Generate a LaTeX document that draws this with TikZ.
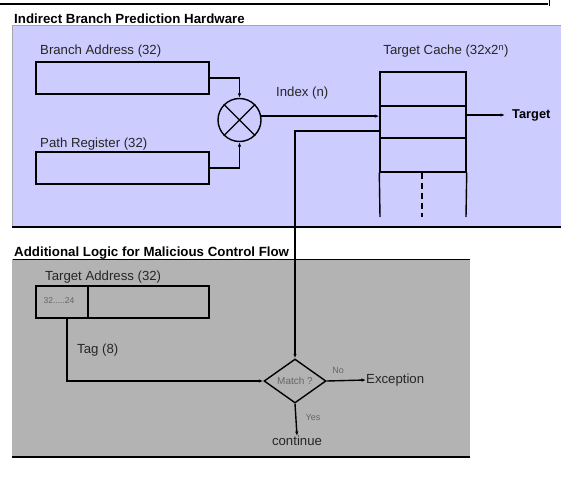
\documentclass[tikz,border=0pt]{standalone}
\usepackage{fontspec}
\setmainfont{Liberation Sans}
\usetikzlibrary{arrows.meta,shapes.geometric}
\definecolor{panelblue}{RGB}{204,204,255}
\definecolor{panelgray}{RGB}{179,179,179}
\begin{document}
\begin{tikzpicture}[x=1pt,y=-1pt,
  conn/.style={line width=1.4pt,-{Latex[length=4.5pt,width=3.5pt]}},
  plain/.style={line width=1.4pt},
  regbox/.style={draw,line width=1.4pt,minimum height=32pt,inner sep=0pt},
  lbl/.style={font=\fontsize{13.2}{15}\selectfont,text=black!85,inner sep=0pt},
  ttl/.style={font=\fontsize{13.3}{15}\selectfont\bfseries,inner sep=0pt,anchor=west},
  small/.style={font=\fontsize{9}{10}\selectfont,text=black!60,inner sep=0pt}]
\useasboundingbox (0,0) rectangle (561,476);
% top rule
\draw[line width=2.4pt] (0,4) -- (548,4);
\draw[line width=0.6pt] (549,0) -- (549,6);
% panels
\fill[panelblue] (12,25) rectangle (561,227);
\draw[gray!70,line width=0.6pt] (12,227) -- (12,25) -- (561,25);
\draw[line width=1.3pt] (12,227) -- (561,227);
\fill[panelgray] (12,259) rectangle (470,457);
\draw[line width=0.8pt] (12,259) -- (470,259);
\draw[gray!60,line width=0.6pt] (12,259) -- (12,457);
\draw[line width=2pt] (12,457) -- (470,457);
% titles
\node[ttl] (t1) at (14,19) {Indirect Branch Prediction Hardware};
\node[ttl] (t2) at (14,253) {Additional Logic for Malicious Control Flow};
% registers
\node[regbox,minimum width=173pt] (ba) at (122.5,78) {};
\node[lbl,anchor=west] (bal) at (40,51) {Branch Address (32)};
\node[regbox,minimum width=173pt] (pr) at (122.5,168) {};
\node[lbl,anchor=west] (prl) at (40,144) {Path Register (32)};
% xor circle
\node[draw,circle,line width=1.4pt,minimum size=43pt,inner sep=0pt] (circ) at (239.5,120) {};
\draw[plain] (circ.45) -- (circ.225) (circ.135) -- (circ.315);
\draw[conn] (ba.east) -| (circ.north);
\draw[conn] (pr.east) -| (circ.south);
% target cache
\node[regbox,minimum width=86pt,minimum height=34pt] (c1) at (423,89) {};
\node[regbox,minimum width=86pt,minimum height=32pt] (c2) at (423,122) {};
\node[regbox,minimum width=86pt,minimum height=34pt] (c3) at (423,155) {};
\coordinate (cbl) at (380,217);
\coordinate (cbr) at (466,217);
\coordinate (cbm) at (422,217);
\draw[plain] (c3.south west) -- (cbl) (c3.south east) -- (cbr);
\draw[line width=1.4pt,dash pattern=on 6pt off 4pt] (c3.south -| cbm) -- (cbm);
\node[lbl] (tcl) at (446,51) {Target Cache (32x2\textsuperscript{n})};
\draw[conn] (circ.10) -- (circ.10 -| c2.west);
\node[lbl,anchor=west] (idx) at (276,93) {Index (n)};
\node[font=\fontsize{12.8}{14}\selectfont\bfseries,inner ysep=0pt,inner xsep=7pt,anchor=west] (tgt) at (505,115) {Target};
\draw[conn] (c2.east |- tgt.west) -- (tgt.west);
% malicious control flow logic
\node[regbox,minimum width=52pt] (ta1) at (62,302) {};
\node[regbox,minimum width=121pt] (ta2) at (148.5,302) {};
\node[small,font=\fontsize{8.5}{10}\selectfont] (bits) at (59,301) {32.....24};
\node[lbl,anchor=west] (tal) at (45,277) {Target Address (32)};
\node[draw,diamond,line width=1.4pt,minimum width=62pt,minimum height=44pt,inner sep=0pt,
  small,font=\fontsize{10}{11}\selectfont] (dia) at (295,381) {Match ?};
\draw[conn] ([xshift=5pt]ta1.south) |- (dia.west);
\node[lbl,anchor=west] (tag) at (77,350) {Tag (8)};
\draw[conn] ([yshift=-9pt]c2.west) -| (dia.north);
\node[lbl,anchor=west] (exc) at (366,380) {Exception};
\draw[conn] (dia.east) -- (exc.west);
\node[small] (no) at (338,370) {No};
\node[lbl] (cont) at (297,441) {continue};
\draw[conn] (dia.south) -- (cont.north);
\node[small] (yes) at (313,417) {Yes};
\end{tikzpicture}
\end{document}
